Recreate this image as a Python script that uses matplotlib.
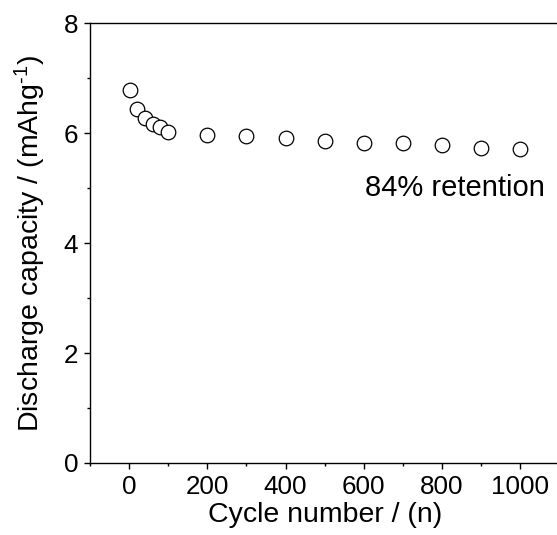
import matplotlib
matplotlib.use("Agg")
import matplotlib.pyplot as plt
from matplotlib.ticker import MultipleLocator

plt.rcParams['font.family'] = ['Liberation Sans', 'DejaVu Sans']
plt.rcParams['mathtext.fontset'] = 'custom'
plt.rcParams['mathtext.rm'] = 'Liberation Sans'
plt.rcParams['mathtext.it'] = 'Liberation Sans'

cycles = [1, 20, 40, 60, 80, 100, 200, 300, 400, 500, 600, 700, 800, 900, 1000]
capacity = [6.78, 6.45, 6.28, 6.16, 6.12, 6.03, 5.96, 5.95, 5.92, 5.86, 5.83, 5.83, 5.78, 5.74, 5.72]

fig = plt.figure(figsize=(5.57, 5.35), dpi=100)
ax = fig.add_axes([0.1616, 0.1346, 0.8427, 0.8218])
ax.plot(cycles, capacity, linestyle='none', marker='o', markersize=10.5,
        markerfacecolor='white', markeredgecolor='black', markeredgewidth=0.9)

ax.set_xlim(-100, 1100)
ax.set_ylim(0, 8)
ax.xaxis.set_major_locator(MultipleLocator(200))
ax.xaxis.set_minor_locator(MultipleLocator(100))
ax.yaxis.set_major_locator(MultipleLocator(2))
ax.yaxis.set_minor_locator(MultipleLocator(1))
ax.tick_params(which='major', direction='out', length=4.5, width=1.0, labelsize=18.7, pad=4)
ax.tick_params(which='minor', direction='out', length=2.5, width=1.0)
ax.tick_params(top=False, right=False)
ax.spines['right'].set_visible(False)
for s in ['left', 'bottom', 'top']:
    ax.spines[s].set_linewidth(1.0)

ax.set_xlabel('Cycle number / (n)', fontsize=20.5, labelpad=2)
ax.set_ylabel('Discharge capacity / (mAhg$^{\\text{-}1}$)', fontsize=20.5, labelpad=11)
ax.text(1063, 5.0, '84% retention', fontsize=21, ha='right', va='center')

fig.savefig('out.png', dpi=100)
